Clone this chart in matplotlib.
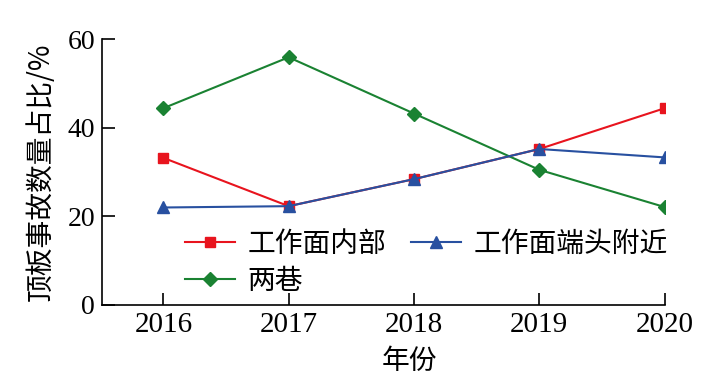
import matplotlib
matplotlib.use('Agg')
import matplotlib.pyplot as plt

# 数据
years = [2016, 2017, 2018, 2019, 2020]
inner = [33.2, 22.3, 28.4, 35.2, 44.4]      # 工作面内部
end_near = [22.0, 22.3, 28.4, 35.2, 33.3]   # 工作面端头附近
roadways = [44.4, 55.9, 43.2, 30.5, 22.1]   # 两巷

labels = ['工作面内部', '工作面端头附近', '两巷']
yticks = [0, 20, 40, 60]

serif = ['Liberation Serif', 'DejaVu Serif']
cjk = ['Noto Sans CJK SC', 'DejaVu Sans']

fig = plt.figure(figsize=(7.28, 3.91), dpi=100)
ax = fig.add_axes([0.140, 0.220, 0.773, 0.680])

l1, = ax.plot(years, inner, color='#e8141e', marker='s', markersize=7.5, lw=1.5, label=labels[0])
l3, = ax.plot(years, roadways, color='#1a8232', marker='D', markersize=7, lw=1.5, label=labels[2])
l2, = ax.plot(years, end_near, color='#2850a0', marker='^', markersize=8, lw=1.5, label=labels[1])

ax.set_xlim(2015.51, 2020)
ax.set_ylim(0, 60)
ax.set_xticks(years)
ax.set_yticks(yticks)
ax.set_xticklabels([str(y) for y in years], family=serif, fontsize=21)
ax.set_yticklabels([str(v) for v in yticks], family=serif, fontsize=20)
ax.tick_params(direction='in', length=9, width=1.2, pad=5)
for s in ['top', 'right']:
    ax.spines[s].set_visible(False)
for s in ['left', 'bottom']:
    ax.spines[s].set_linewidth(1.2)

ax.set_ylabel('顶板事故数量占比/%', family=cjk, fontsize=20, labelpad=8)
ax.set_xlabel('年份', family=cjk, fontsize=20, labelpad=0)
ax.xaxis.set_label_coords(0.547, -0.155)

leg = ax.legend(handles=[l1, l3, l2], ncol=2, loc='upper left',
                bbox_to_anchor=(185 / 728, 1 - 229 / 391),
                bbox_transform=fig.transFigure, frameon=False,
                borderpad=0, borderaxespad=0,
                prop={'family': cjk, 'size': 20}, handlelength=1.8,
                handletextpad=0.45, columnspacing=0.9, labelspacing=0.25)

fig.savefig('out.png', dpi=100)
